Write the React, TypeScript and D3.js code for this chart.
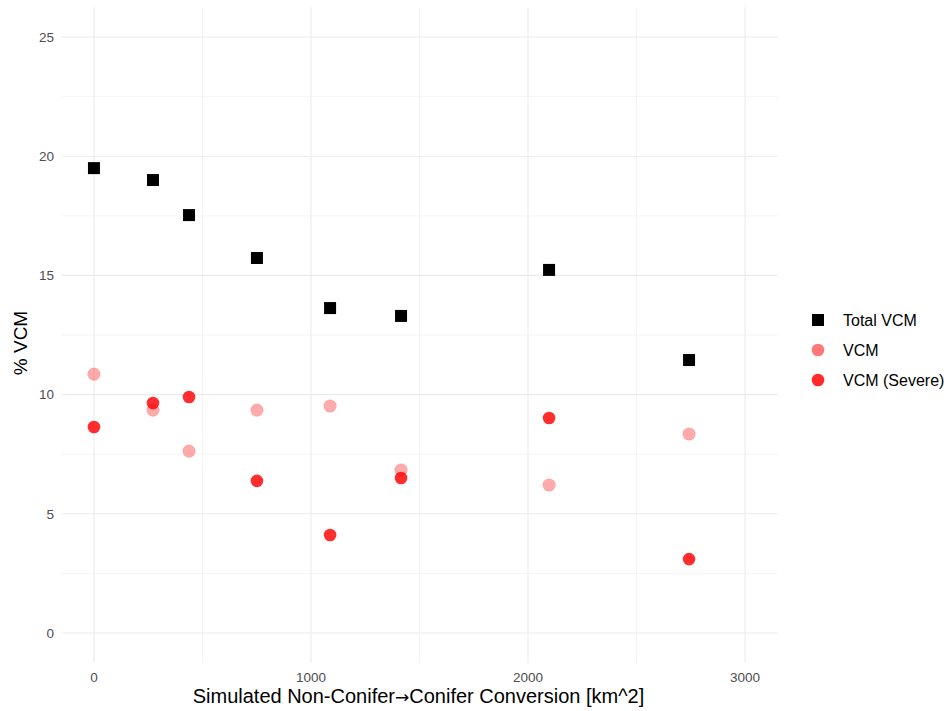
import React, { useRef, useEffect } from 'react';
import * as d3 from 'd3';

const conversion = [0, 272, 438, 751, 1088, 1415, 2097, 2742];
const totalVcm = [19.5, 19.0, 17.53, 15.73, 13.63, 13.3, 15.23, 11.45];
const vcm = [10.86, 9.35, 7.63, 9.35, 9.52, 6.84, 6.21, 8.35];
const vcmSevere = [8.64, 9.65, 9.9, 6.38, 4.11, 6.5, 9.02, 3.1];

const xTicks = [0, 1000, 2000, 3000];
const yTicks = [0, 5, 10, 15, 20, 25];
const xMinor = [500, 1500, 2500];
const yMinor = [2.5, 7.5, 12.5, 17.5, 22.5];
const legendLabels = ['Total VCM', 'VCM', 'VCM (Severe)'];

const App = () => {
  const svgRef = useRef<SVGSVGElement | null>(null);

  useEffect(() => {
    const width = 951;
    const height = 711;
    const svg = d3.select(svgRef.current);
    svg.selectAll('*').remove();
    svg.attr('width', width).attr('height', height).style('display', 'block').style('background', '#fff');

    const font = 'Liberation Sans, Arial, sans-serif';
    const left = 61.4, right = 777.6, top = 7.2, bottom = 662.8;

    const x = d3.scaleLinear().domain([-150, 3150]).range([left, right]);
    const y = d3.scaleLinear().domain([-1.25, 26.25]).range([bottom, top]);

    const grid = svg.append('g');
    // minor grid
    grid.selectAll('.xm').data(xMinor).enter().append('line')
      .attr('x1', d => x(d)).attr('x2', d => x(d)).attr('y1', top).attr('y2', bottom)
      .attr('stroke', '#ebebeb').attr('stroke-width', 0.55);
    grid.selectAll('.ym').data(yMinor).enter().append('line')
      .attr('y1', d => y(d)).attr('y2', d => y(d)).attr('x1', left).attr('x2', right)
      .attr('stroke', '#ebebeb').attr('stroke-width', 0.55);
    // major grid
    grid.selectAll('.xM').data(xTicks).enter().append('line')
      .attr('x1', d => x(d)).attr('x2', d => x(d)).attr('y1', top).attr('y2', bottom)
      .attr('stroke', '#ebebeb').attr('stroke-width', 1.1);
    grid.selectAll('.yM').data(yTicks).enter().append('line')
      .attr('y1', d => y(d)).attr('y2', d => y(d)).attr('x1', left).attr('x2', right)
      .attr('stroke', '#ebebeb').attr('stroke-width', 1.1);

    // tick labels
    svg.append('g').selectAll('text').data(xTicks).enter().append('text')
      .attr('x', d => x(d)).attr('y', 682)
      .attr('text-anchor', 'middle').attr('font-family', font).attr('font-size', 13.5)
      .attr('fill', '#4d4d4d').text(d => d);
    svg.append('g').selectAll('text').data(yTicks).enter().append('text')
      .attr('x', 54).attr('y', d => y(d)).attr('dy', '0.35em')
      .attr('text-anchor', 'end').attr('font-family', font).attr('font-size', 13.5)
      .attr('fill', '#4d4d4d').text(d => d);

    // axis titles
    const xt = svg.append('text').attr('x', (left + right) / 2 - 1).attr('y', 703)
      .attr('text-anchor', 'middle').attr('font-family', font).attr('font-size', 20)
      .attr('fill', '#000');
    xt.append('tspan').text('Simulated Non-Conifer');
    xt.append('tspan').attr('font-family', 'DejaVu Sans').attr('font-size', 17).text('\u2192');
    xt.append('tspan').text('Conifer Conversion [km^2]');
    svg.append('text').attr('transform', `translate(27,${(top + bottom) / 2 + 8}) rotate(-90)`)
      .attr('text-anchor', 'middle').attr('font-family', font).attr('font-size', 19)
      .attr('fill', '#000').text('% VCM');

    const pts = svg.append('g');
    const sq = 12;
    pts.selectAll('.tot').data(conversion).enter().append('rect')
      .attr('x', (d) => x(d) - sq / 2).attr('y', (d, i) => y(totalVcm[i]) - sq / 2)
      .attr('width', sq).attr('height', sq).attr('fill', '#000');
    pts.selectAll('.vcm').data(conversion).enter().append('circle')
      .attr('cx', d => x(d)).attr('cy', (d, i) => y(vcm[i])).attr('r', 6.3)
      .attr('fill', 'rgba(255,0,0,0.33)').attr('stroke', 'rgba(255,0,0,0.12)').attr('stroke-width', 1);
    pts.selectAll('.sev').data(conversion).enter().append('circle')
      .attr('cx', d => x(d)).attr('cy', (d, i) => y(vcmSevere[i])).attr('r', 6.3)
      .attr('fill', 'rgba(255,0,0,0.82)');

    // legend
    const lg = svg.append('g');
    const rowY = [320, 350, 380];
    legendLabels.forEach((lab, i) => {
      const cy = rowY[i];
      if (i === 0) {
        lg.append('rect').attr('x', 818 - sq / 2).attr('y', cy - sq / 2).attr('width', sq).attr('height', sq).attr('fill', '#000');
      } else {
        lg.append('circle').attr('cx', 818).attr('cy', cy).attr('r', 6.3)
          .attr('fill', i === 1 ? 'rgba(255,0,0,0.53)' : 'rgba(255,0,0,0.83)');
      }
      lg.append('text').attr('x', 843).attr('y', cy).attr('dy', '0.35em')
        .attr('font-family', font).attr('font-size', 16).attr('fill', '#000').text(lab);
    });
  }, []);

  return <svg ref={svgRef} style={{ position: 'absolute', left: 0, top: 0 }}></svg>;
};

export default App;
